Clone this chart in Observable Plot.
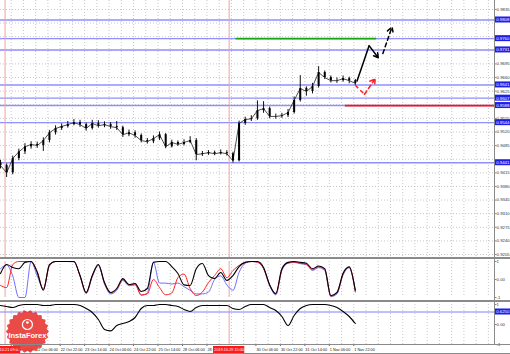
<!DOCTYPE html>
<html><head><meta charset="utf-8">
<script src="https://cdn.jsdelivr.net/npm/d3@7"></script>
<script src="https://cdn.jsdelivr.net/npm/@observablehq/plot@0.6"></script>
<style>
body{margin:0;background:#fff;}
#chart{position:relative;width:510px;height:354px;overflow:hidden;font-family:"Liberation Sans",Arial,sans-serif;background:#fff;}
#chart svg{position:absolute;left:0;}
.bd{position:absolute;background:#8a8a8a;}
</style></head><body><div id="chart"></div>
<script>
// ---- time index (hours of trading bars from chart start), one candle per 4 hours
const hours = [0,4,8,12,16,20,24,28,32,36,40,44,48,52,56,60,64,68,72,76,80,84,88,92,96,100,104,108,112,116,120,124,128,132,136,140,144,148,152,156,160,164,168,172,176,180,184,188,192,196,200,204,208,212,216,220,224,228,232];
const open  = [0.9440,0.9434,0.9415,0.9452,0.9469,0.9482,0.9488,0.9485,0.9498,0.9518,0.9529,0.9534,0.9539,0.9544,0.9539,0.9529,0.9542,0.9536,0.9539,0.9534,0.9531,0.9513,0.9518,0.9511,0.9498,0.9495,0.9503,0.9513,0.9482,0.9493,0.9488,0.9493,0.9498,0.9462,0.9464,0.9467,0.9464,0.9467,0.9464,0.9446,0.9542,0.9552,0.9554,0.9575,0.9580,0.9560,0.9560,0.9562,0.9570,0.9601,0.9632,0.9624,0.9637,0.9673,0.9660,0.9652,0.9652,0.9657,0.9652];
const close = [0.9434,0.9415,0.9452,0.9469,0.9482,0.9488,0.9485,0.9498,0.9518,0.9529,0.9534,0.9539,0.9544,0.9539,0.9529,0.9542,0.9536,0.9539,0.9534,0.9531,0.9513,0.9518,0.9511,0.9498,0.9495,0.9503,0.9513,0.9482,0.9493,0.9488,0.9493,0.9498,0.9462,0.9464,0.9467,0.9464,0.9467,0.9464,0.9446,0.9542,0.9552,0.9554,0.9575,0.9580,0.9560,0.9560,0.9562,0.9570,0.9601,0.9632,0.9624,0.9637,0.9673,0.9660,0.9652,0.9652,0.9657,0.9652,0.9645];
const high  = [0.9447,0.9438,0.9458,0.9476,0.9490,0.9495,0.9494,0.9505,0.9524,0.9536,0.9541,0.9547,0.9552,0.9550,0.9543,0.9550,0.9549,0.9546,0.9544,0.9547,0.9535,0.9525,0.9523,0.9515,0.9503,0.9510,0.9520,0.9516,0.9499,0.9497,0.9500,0.9508,0.9503,0.9470,0.9472,0.9471,0.9474,0.9472,0.9468,0.9548,0.9558,0.9562,0.9600,0.9598,0.9584,0.9566,0.9568,0.9578,0.9610,0.9665,0.9636,0.9645,0.9688,0.9677,0.9664,0.9659,0.9664,0.9661,0.9655];
const low   = [0.9425,0.9403,0.9410,0.9446,0.9462,0.9476,0.9478,0.9470,0.9492,0.9512,0.9524,0.9530,0.9536,0.9532,0.9522,0.9525,0.9530,0.9531,0.9527,0.9524,0.9506,0.9508,0.9504,0.9492,0.9489,0.9490,0.9498,0.9477,0.9479,0.9483,0.9484,0.9490,0.9446,0.9457,0.9460,0.9459,0.9461,0.9458,0.9440,0.9443,0.9537,0.9547,0.9550,0.9568,0.9554,0.9553,0.9555,0.9557,0.9566,0.9597,0.9612,0.9618,0.9633,0.9655,0.9646,0.9645,0.9648,0.9644,0.9640];

// ---- oscillator panel 1 (range -1..1)
const osc1Black = [0.33,0.83,0.67,0.6,0.95,1.0,0.4,-0.6,0.83,1.0,1.0,1.0,1.0,0.22,-0.72,0.22,0.83,-0.17,-0.72,-0.5,0.05,-0.28,-0.22,-0.67,-0.5,0.95,1.0,1.0,0.72,0.33,-0.3,-0.33,0.6,0.89,0.22,0.05,0.39,-0.05,0.22,0.72,0.95,1.0,1.0,0.67,-0.3,-0.78,0.6,0.95,1.0,0.95,0.9,0.6,0.75,0.6,-0.9,-0.72,0.35,0.7,-0.6];
const osc1Red   = [-0.33,-0.45,0.83,1.0,1.0,1.0,0.45,-0.55,0.8,1.0,1.0,1.0,1.0,0.2,-0.75,0.2,0.8,-0.2,-0.75,-0.55,0.0,-0.3,-0.25,-0.85,-0.8,0.0,-0.45,-0.85,-0.75,0.1,0.3,-0.5,-0.89,-0.7,-0.17,0.22,0.6,0.1,0.5,0.78,0.95,1.0,0.97,0.62,-0.3,-0.82,0.55,0.92,0.97,0.9,0.85,0.55,0.7,0.55,-0.92,-0.75,0.3,0.68,-0.65];
const osc1Blue  = [0.6,0.8,0.2,-1.0,-1.0,1.0,0.2,-0.5,0.75,1.0,1.0,1.0,0.98,0.2,-0.78,0.15,0.78,-0.25,-0.8,-0.6,-0.05,-0.35,-0.3,-0.88,-0.75,0.95,-0.2,-0.2,-0.25,-0.2,-0.4,-0.6,-0.8,-0.8,-0.7,0.0,0.2,-0.3,-0.6,0.4,0.9,1.0,0.95,0.6,-0.35,-0.85,0.5,0.9,0.95,0.88,0.82,0.5,0.66,0.5,-0.95,-0.8,0.25,0.65,-0.7];
// ---- oscillator panel 2
const osc2Black = [0.95,0.9,0.85,0.95,1.0,1.0,1.0,0.95,0.95,1.0,1.0,1.0,1.0,0.95,0.8,0.6,0.25,-0.25,-0.32,-0.05,0.05,0.15,0.35,0.8,0.95,0.95,1.0,1.0,0.95,0.9,0.75,0.65,0.85,0.95,0.95,0.95,0.95,0.95,0.8,0.75,0.9,1.0,1.0,1.0,0.85,0.7,0.4,-0.05,0.45,0.8,0.95,1.0,1.0,1.0,0.95,0.85,0.65,0.4,0.05];
const osc2Level = 0.625;

// ---- levels & annotations
const blueLevels = [0.9808,0.9760,0.9731,0.9641,0.9607,0.9588,0.9544,0.9441];
const greenLevel = {p:0.9760, from:154, to:246};
const redLevel   = {p:0.9588, from:225.5, to:323};
const fcBlackSolidH = [233,241,247], fcBlackSolidP = [0.9650,0.9742,0.9711];
const fcBlackDashH  = [250,256],     fcBlackDashP  = [0.9722,0.9790];
const fcRedH = [232,238,245],        fcRedP = [0.9640,0.9617,0.9657];

// ---- axes
const priceTicks = [0.9835,0.9800,0.9765,0.9730,0.9695,0.9660,0.9625,0.9590,0.9555,0.9520,0.9485,0.9450,0.9415,0.9380,0.9345,0.9310,0.9275,0.9240,0.9205];
const timeTickHours = [7,23,39,55,71,87,103,119,135,167,183,199,215,231];
const timeTickLabels = ["21 Oct 14:00","22 Oct 06:00","22 Oct 22:00","23 Oct 14:00","24 Oct 06:00","24 Oct 22:00","25 Oct 14:00","28 Oct 06:00","28 Oct 22:00","30 Oct 06:00","30 Oct 22:00","31 Oct 14:00","1 Nov 06:00","1 Nov 22:00"];
const separatorHours = [3,149.5];
const separatorLabels = ["2019.10.21 09:00","2019.10.29 15:00"];
const oscTicks = [1,0,-1];
const logoPos = [{h:17.6, v:-0.35}];

// ---- build
const XMAX = 323;
const xOpt = {domain:[0,XMAX], axis:null};
const gridHours = d3.range(7, XMAX, 8);
const candles = hours.map((h,i)=>({h, o:open[i], c:close[i], hi:high[i], lo:low[i]}));
const osc1 = hours.map((h,i)=>({h, k:osc1Black[i], r:osc1Red[i], b:osc1Blue[i]}));
const osc2 = hours.map((h,i)=>({h, v:osc2Black[i]}));
const seg = (H,P)=>H.slice(0,-1).map((h,i)=>({x1:h,y1:P[i],x2:H[i+1],y2:P[i+1]}));
const grid = {stroke:"#c8c8c8", strokeOpacity:1, strokeDasharray:"1,2"};
const axisTxt = {fontSize:4.3, tickSize:1.5, tickPadding:0.6, fill:"#333", stroke:"#888", label:null};
const BOX = 10.5;            // hours spanned by right-axis boxes
const HALF = 0.00077;        // half box height in price units
// tick labels that sit under a level box are hidden there, as on the terminal
const visibleTicks = priceTicks.filter(t => blueLevels.every(l => Math.abs(l - t) > 0.00095));

const root = document.getElementById("chart");
function place(svg, top){ svg.style.top = top+"px"; root.appendChild(svg); }
const font = {fontFamily:"Liberation Sans, Arial, sans-serif"};

const main = Plot.plot({
  width:510, height:257, marginLeft:0, marginRight:16, marginTop:0, marginBottom:0,
  x:xOpt, y:{domain:[0.91973,0.98581], axis:null}, style:font,
  marks:[
    Plot.gridY(priceTicks, grid),
    Plot.gridX(gridHours, grid),
    Plot.ruleY(blueLevels, {stroke:"#8f8fff", strokeWidth:1.4}),
    Plot.ruleX(separatorHours, {stroke:"#f2a0a0", strokeWidth:1}),
    Plot.ruleY([greenLevel], {y:"p", x1:"from", x2:"to", stroke:"#16a516", strokeWidth:1.8}),
    Plot.ruleY([redLevel], {y:"p", x1:"from", x2:"to", stroke:"#ff1010", strokeWidth:1.8}),
    Plot.line(candles, {x:"h", y:"c", stroke:"#222", strokeWidth:0.8}),
    Plot.ruleX(candles, {x:"h", y1:"lo", y2:"hi", stroke:"#111", strokeWidth:1}),
    Plot.ruleX(candles, {x:"h", y1:"o", y2:"c", stroke:"#000", strokeWidth:2}),
    Plot.link(seg(fcBlackSolidH,fcBlackSolidP).slice(0,1), {x1:"x1",y1:"y1",x2:"x2",y2:"y2", stroke:"#000", strokeWidth:1.5}),
    Plot.arrow(seg(fcBlackSolidH,fcBlackSolidP).slice(1), {x1:"x1",y1:"y1",x2:"x2",y2:"y2", stroke:"#000", strokeWidth:1.5, headLength:6}),
    Plot.arrow(seg(fcBlackDashH,fcBlackDashP), {x1:"x1",y1:"y1",x2:"x2",y2:"y2", stroke:"#000", strokeWidth:1.5, headLength:6, strokeDasharray:"4,3"}),
    Plot.link(seg(fcRedH,fcRedP).slice(0,1), {x1:"x1",y1:"y1",x2:"x2",y2:"y2", stroke:"#ff2020", strokeWidth:1.5, strokeDasharray:"4,3"}),
    Plot.arrow(seg(fcRedH,fcRedP).slice(1), {x1:"x1",y1:"y1",x2:"x2",y2:"y2", stroke:"#ff2020", strokeWidth:1.5, headLength:6, strokeDasharray:"4,3"}),
    Plot.axisY(visibleTicks, {...axisTxt, anchor:"right", tickFormat:d=>d.toFixed(4)}),
    Plot.rect(blueLevels, {x1:XMAX+0.4, x2:XMAX+BOX, y1:d=>d-HALF, y2:d=>d+HALF, fill:"#1e1ee6"}),
    Plot.text(blueLevels, {x:XMAX+BOX/2+0.2, y:d=>d, text:d=>d.toFixed(4), fill:"#fff", fontSize:4.3})
  ]
});
place(main, 0);

const p1 = Plot.plot({
  width:510, height:43, marginLeft:0, marginRight:16, marginTop:3, marginBottom:4,
  x:xOpt, y:{domain:[-1,1], axis:null}, style:font,
  marks:[
    Plot.gridX(gridHours, grid),
    Plot.ruleX(separatorHours, {stroke:"#f2a0a0"}),
    Plot.line(osc1, {x:"h", y:"b", stroke:"#6f6fff", strokeWidth:1, curve:"monotone-x"}),
    Plot.line(osc1, {x:"h", y:"r", stroke:"#ff1f1f", strokeWidth:1, curve:"monotone-x"}),
    Plot.line(osc1, {x:"h", y:"k", stroke:"#000", strokeWidth:1.1, curve:"monotone-x"}),
    Plot.axisY(oscTicks, {...axisTxt, anchor:"right", tickFormat:d=>d===0?"0.00":String(d)})
  ]
});
place(p1, 258);

const p2 = Plot.plot({
  width:510, height:53, marginLeft:0, marginRight:16, marginTop:3, marginBottom:10,
  x:xOpt, y:{domain:[-1,1], axis:null}, style:font,
  marks:[
    Plot.gridX(gridHours, grid),
    Plot.ruleX(separatorHours, {stroke:"#f2a0a0"}),
    Plot.ruleY([osc2Level], {stroke:"#8080ff", strokeWidth:1}),
    Plot.line(osc2, {x:"h", y:"v", stroke:"#000", strokeWidth:1.1, curve:"monotone-x"}),
    Plot.axisY(oscTicks, {...axisTxt, anchor:"right", tickFormat:d=>d===0?"0.00":String(d)}),
    Plot.rect([osc2Level], {x1:XMAX+0.4, x2:XMAX+BOX, y1:d=>d-0.15, y2:d=>d+0.15, fill:"#1e1ee6"}),
    Plot.text([osc2Level], {x:XMAX+BOX/2+0.2, y:d=>d, text:d=>d.toFixed(4), fill:"#fff", fontSize:4.3}),
    // time axis
    Plot.tickX(timeTickHours, {stroke:"#666", insetTop:40, insetBottom:-2}),
    Plot.text(timeTickHours, {x:d=>d, text:(d,i)=>timeTickLabels[i], frameAnchor:"bottom", dy:6, dx:0.5, textAnchor:"start", fontSize:3.8, fill:"#222"}),
    Plot.rect(separatorHours, {x1:d=>d-10.2, x2:d=>d+10.2, fill:"#ff1a1a", insetTop:42, insetBottom:-9}),
    Plot.text(separatorHours, {x:d=>d, text:(d,i)=>separatorLabels[i], frameAnchor:"bottom", dy:6, fontSize:3.8, fill:"#fff"}),
    // watermark
    Plot.dot(logoPos, {x:"h", y:"v", r:21.5, fill:"#e8322c", fillOpacity:0.88, stroke:"none",
      symbol:{draw(ctx,size){const R=Math.sqrt(size/Math.PI); const n=96; for(let i=0;i<=n;i++){const t=i/n*2*Math.PI; const rr=R*(0.95+0.05*Math.cos(22*t)); const px=rr*Math.cos(t), py=rr*Math.sin(t); i?ctx.lineTo(px,py):ctx.moveTo(px,py);} ctx.closePath();}}}),
    Plot.dot(logoPos, {x:"h", y:"v", r:5, dy:-7, stroke:"#fff", strokeWidth:1.2, fill:"none"}),
    Plot.dot(logoPos, {x:"h", y:"v", r:1.3, dy:-9, fill:"#fff"}),
    Plot.text(logoPos, {x:"h", y:"v", dy:4, text:()=>"InstaForex", fill:"#fff", fontSize:7.5, fontWeight:"bold"})
  ]
});
place(p2, 301);

// panel borders
[[257,2],[300,2],[344,1],[353,1]].forEach(([t,h])=>{const d=document.createElement("div");d.className="bd";d.style.cssText=`left:0;width:510px;top:${t}px;height:${h}px;`;root.appendChild(d);});
{const d=document.createElement("div");d.className="bd";d.style.cssText="left:494px;width:1px;top:0;height:345px;";root.appendChild(d);}
</script></body></html>
